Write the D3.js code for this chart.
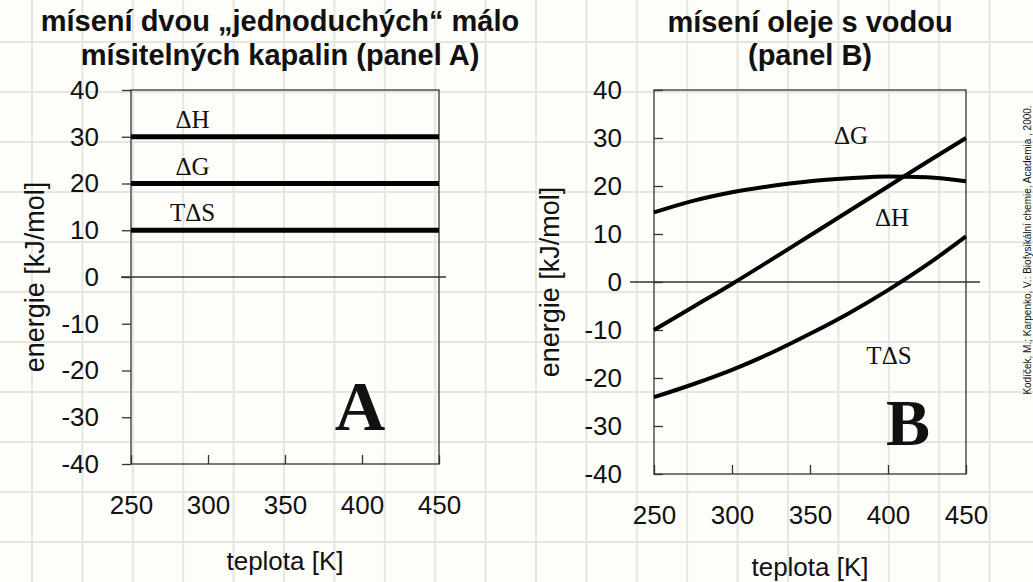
<!DOCTYPE html>
<html>
<head>
<meta charset="utf-8">
<script src="https://cdn.jsdelivr.net/npm/d3@7"></script>
<style>
  body { margin: 0; background: #fdfdf9; }
  svg { display: block; }
  text { font-family: Arial, "Liberation Sans", sans-serif; fill: #111; }
  .serif { font-family: "Times New Roman", "Liberation Serif", serif; }
  .tick text { font-size: 26px; }
  .tick line { stroke: #333; stroke-width: 1.3; }
</style>
</head>
<body>
<div id="chart"></div>
<script>
// temperature axis
var xTicks = [250, 300, 350, 400, 450];
var yTicks = [-40, -30, -20, -10, 0, 10, 20, 30, 40];

// panel A - constant values
var seriesA = [
  {name: "ΔH",  value: 30},
  {name: "ΔG",  value: 20},
  {name: "TΔS", value: 10}
];

// panel B
var tempB = [250, 275, 300, 325, 350, 375, 400, 425, 450];
var dH  = [-10, -5.2, -0.4, 4.6, 9.7, 14.8, 19.9, 25, 30];
var dG  = [14.5, 16.9, 18.7, 20.0, 21.0, 21.6, 22.0, 21.8, 21.0];
var TdS = [-24, -21.3, -18.3, -14.8, -10.8, -6.5, -1.7, 3.6, 9.5];

var width = 1033, height = 582;

var svg = d3.select("#chart").append("svg")
    .attr("width", width)
    .attr("height", height);

// background grid
var grid = svg.append("g");
d3.range(32, width, 50.4).forEach(function(gx) {
    grid.append("line").attr("x1", gx).attr("x2", gx).attr("y1", 0).attr("y2", height)
        .attr("stroke", "#e6e6e1").attr("stroke-width", 2);
});
d3.range(42, height, 50).forEach(function(gy) {
    grid.append("line").attr("y1", gy).attr("y2", gy).attr("x1", 0).attr("x2", width)
        .attr("stroke", "#e6e6e1").attr("stroke-width", 2);
});

function drawPanel(p) {
    var x = d3.scaleLinear().domain([250, 450]).range([p.left, p.right]);
    var y = d3.scaleLinear().domain([-40, 40]).range([p.bottom, p.top]);

    // plot box (transparent, grid shows through)
    svg.append("rect")
        .attr("x", p.left).attr("y", p.top)
        .attr("width", p.right - p.left).attr("height", p.bottom - p.top)
        .attr("fill", "none").attr("stroke", "#333").attr("stroke-width", 1.3);

    // zero line
    svg.append("line")
        .attr("x1", p.zeroFrom).attr("x2", p.zeroTo)
        .attr("y1", y(0)).attr("y2", y(0))
        .attr("stroke", "#333").attr("stroke-width", 1.3);

    var yAxis = d3.axisLeft(y).tickValues(yTicks)
        .tickFormat(function(d) { return String(d); })
        .tickSizeInner(p.ytick).tickSizeOuter(0).tickPadding(p.ypad);
    svg.append("g")
        .attr("transform", "translate(" + p.left + ",0)")
        .call(yAxis)
        .call(function(g) { g.select(".domain").remove(); });

    var xAxis = d3.axisBottom(x).tickValues(xTicks)
        .tickFormat(function(d) { return String(d); })
        .tickSizeInner(-9).tickSizeOuter(0).tickPadding(32);
    svg.append("g")
        .attr("transform", "translate(0," + p.bottom + ")")
        .call(xAxis)
        .call(function(g) { g.select(".domain").remove(); });

    // axis titles
    svg.append("text")
        .attr("transform", "translate(" + p.ylabX + "," + y(0) + ") rotate(-90)")
        .attr("text-anchor", "middle")
        .attr("dy", "0.35em")
        .style("font-size", "27px")
        .text("energie [kJ/mol]");

    svg.append("text")
        .attr("x", (p.left + p.right) / 2)
        .attr("y", p.xlabY)
        .attr("text-anchor", "middle")
        .style("font-size", "26px")
        .text("teplota [K]");

    // panel title
    p.title.forEach(function(t, i) {
        svg.append("text")
            .attr("x", p.titleX)
            .attr("y", p.titleY[i])
            .attr("text-anchor", "middle")
            .style("font-size", "29px")
            .style("font-weight", "bold")
            .text(t);
    });

    // big letter
    svg.append("text")
        .attr("class", "serif")
        .attr("x", p.letterX).attr("y", p.letterY)
        .attr("text-anchor", "middle")
        .style("font-size", p.letterSize + "px")
        .style("font-weight", "bold")
        .text(p.letter);

    return {x: x, y: y};
}

// panel A
var a = drawPanel({
    left: 131, right: 439, top: 90, bottom: 464,
    zeroFrom: 121, zeroTo: 446,
    ytick: 9, ypad: 23, ylabX: 35, xlabY: 570,
    title: ["mísení dvou „jednoduchých“ málo", "mísitelných kapalin (panel A)"],
    titleX: 280, titleY: [31, 65],
    letter: "A", letterX: 360, letterY: 430, letterSize: 70
});

svg.append("g").selectAll("line")
    .data(seriesA)
    .enter().append("line")
    .attr("x1", a.x(250)).attr("x2", a.x(450))
    .attr("y1", function(d) { return a.y(d.value); })
    .attr("y2", function(d) { return a.y(d.value); })
    .attr("stroke", "#000").attr("stroke-width", 5);

svg.append("g").selectAll("text")
    .data(seriesA)
    .enter().append("text")
    .attr("class", "serif")
    .attr("x", a.x(290))
    .attr("y", function(d) { return a.y(d.value) - 9; })
    .attr("text-anchor", "middle")
    .style("font-size", "25px")
    .text(function(d) { return d.name; });

// panel B
var b = drawPanel({
    left: 654, right: 966, top: 90, bottom: 474,
    zeroFrom: 630, zeroTo: 980,
    ytick: -9, ypad: 32, ylabX: 550, xlabY: 576,
    title: ["mísení oleje s vodou", "(panel B)"],
    titleX: 810, titleY: [32, 65],
    letter: "B", letterX: 908, letterY: 445, letterSize: 66
});

var seriesB = [
  {name: "ΔG",  values: dG,  lx: 851, ly: 144},
  {name: "ΔH",  values: dH,  lx: 892, ly: 226},
  {name: "TΔS", values: TdS, lx: 889, ly: 364}
];

var line = d3.line()
    .x(function(d, i) { return b.x(tempB[i]); })
    .y(function(d) { return b.y(d); })
    .curve(d3.curveMonotoneX);

svg.append("g").selectAll("path")
    .data(seriesB)
    .enter().append("path")
    .attr("d", function(d) { return line(d.values); })
    .attr("fill", "none")
    .attr("stroke", "#000")
    .attr("stroke-width", 4);

svg.append("g").selectAll("text")
    .data(seriesB)
    .enter().append("text")
    .attr("class", "serif")
    .attr("x", function(d) { return d.lx; })
    .attr("y", function(d) { return d.ly; })
    .attr("text-anchor", "middle")
    .style("font-size", "25px")
    .text(function(d) { return d.name; });

// source note
svg.append("text")
    .attr("transform", "translate(1027,250) rotate(-90)")
    .attr("text-anchor", "middle")
    .attr("dy", "0.35em")
    .style("font-size", "10px")
    .text("Kodíček, M.; Karpenko, V.: Biofysikální chemie, Academia , 2000.");
</script>
</body>
</html>
